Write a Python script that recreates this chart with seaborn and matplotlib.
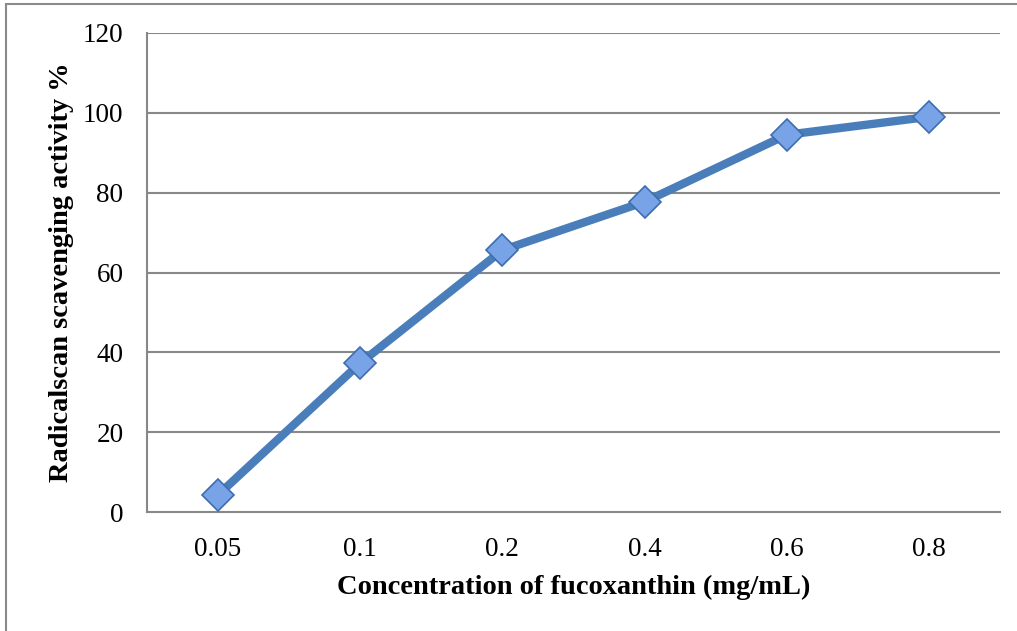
import matplotlib
matplotlib.use("Agg")
import matplotlib.pyplot as plt
import seaborn as sns
import pandas as pd
from matplotlib.patches import Rectangle

# Fucoxanthin concentration (mg/mL) and radical scavenging activity (%)
concentrations = ["0.05", "0.1", "0.2", "0.4", "0.6", "0.8"]
activity = [4.3, 37.3, 65.6, 77.7, 94.5, 99.0]
y_ticks = [0, 20, 40, 60, 80, 100, 120]

sns.set_theme(style="white")
plt.rcParams["font.family"] = ["Liberation Serif", "DejaVu Serif"]

df = pd.DataFrame({"conc": concentrations, "act": activity})

fig = plt.figure(figsize=(10.17, 6.31), dpi=100)
ax = fig.add_axes([147 / 1017, 1 - 512 / 631, (1000 - 147) / 1017, (512 - 33) / 631])

grid_col = "#888888"
for t in y_ticks[1:]:
    ax.axhline(t, color=grid_col, lw=1.5, zorder=0)

sns.lineplot(data=df, x="conc", y="act", ax=ax, sort=False,
             color="#4a7ebb", lw=6, marker="D", markersize=16,
             markerfacecolor="#78a3e6", markeredgecolor="#3d6db0",
             markeredgewidth=1.2, zorder=3)

ax.set_xlim(-0.5, len(concentrations) - 0.5)
ax.set_ylim(0, 120)
ax.set_yticks(y_ticks)
ax.set_yticklabels([str(t) for t in y_ticks])

for s in ["top", "right"]:
    ax.spines[s].set_visible(False)
for s in ["left", "bottom"]:
    ax.spines[s].set_color(grid_col)
    ax.spines[s].set_linewidth(1.5)

ax.tick_params(axis="both", length=0, labelsize=19.5, colors="black")
ax.tick_params(axis="y", pad=17)
ax.tick_params(axis="x", pad=18)

ax.set_xlabel("Concentration of fucoxanthin (mg/mL)", fontsize=20.5,
              fontweight="bold", labelpad=9, color="black")
ax.set_ylabel("Radicalscan scavenging activity %", fontsize=20.5,
              fontweight="bold", labelpad=6, color="black")

# Outer frame of the chart area
fig.add_artist(Rectangle((6 / 1017, -0.1), 1.2, 1.1 - 4 / 631,
                         transform=fig.transFigure, fill=False,
                         edgecolor="#8a8a8a", lw=1.5, clip_on=False))

fig.savefig("out.png", dpi=100, facecolor="white")
